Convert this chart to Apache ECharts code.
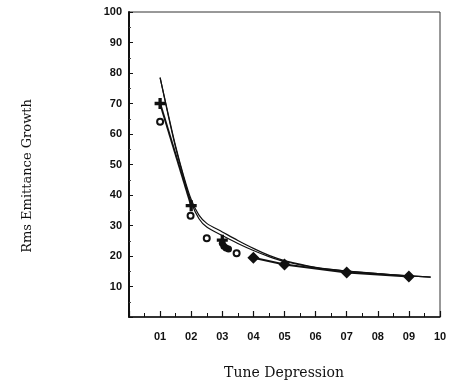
<!DOCTYPE html>
<html>
<head>
<meta charset="utf-8">
<script src="https://cdn.jsdelivr.net/npm/echarts@6/dist/echarts.min.js"></script>
<style>
  html, body { margin: 0; padding: 0; background: #fff; }
  #chart { width: 451px; height: 387px; }
</style>
</head>
<body>
<div id="chart"></div>
<script>
// 两条理论曲线 (tune depression, emittance growth)
var curveUpper = [[0.1, 78.5], [0.125, 67], [0.15, 56], [0.175, 46.5], [0.2, 38.5], [0.225, 33.4],
  [0.25, 30.7], [0.3, 27.9], [0.35, 25.1], [0.4, 22.5], [0.45, 20.2], [0.5, 18.5], [0.6, 16.3],
  [0.7, 15.1], [0.8, 14.2], [0.9, 13.5], [0.97, 13.1]];
var curveLower = [[0.1, 78.5], [0.125, 66.6], [0.15, 55.5], [0.175, 46], [0.2, 37.6], [0.225, 32.2],
  [0.25, 29.5], [0.3, 26.7], [0.35, 24.1], [0.4, 21.8], [0.45, 19.8], [0.5, 18.2], [0.6, 16.2],
  [0.7, 15.05], [0.8, 14.2], [0.9, 13.5], [0.97, 13.1]];
// 测量点
var plusPoints = [[0.1, 70], [0.2, 36.5], [0.3, 25.2]];
var diamondPoints = [[0.4, 19.4], [0.5, 17.2], [0.7, 14.6], [0.9, 13.3]];
var blobPoints = [[0.3, 24.2], [0.305, 23.2], [0.312, 22.6], [0.32, 22.3]];
var circlePoints = [[0.1, 64], [0.198, 33.2], [0.25, 25.8], [0.346, 20.9]];
var xTicks = [0, 1, 0.1];
var yTicks = [0, 100, 10];

var myChart = echarts.init(document.getElementById('chart'));

var labelFont = {
  fontFamily: 'Liberation Sans',
  fontWeight: 'bold',
  fontSize: 11,
  color: '#111'
};

var option = {
  animation: false,
  backgroundColor: '#fff',
  grid: {
    left: 129, top: 12, width: 311, height: 305,
    show: true, borderColor: '#333', borderWidth: 1
  },
  xAxis: {
    type: 'value',
    min: xTicks[0], max: xTicks[1], interval: xTicks[2],
    axisLine: { lineStyle: { color: '#111', width: 1.5 } },
    axisTick: { inside: true, length: 6, lineStyle: { color: '#111', width: 1.2 } },
    minorTick: { show: true, splitNumber: 2, length: 4, lineStyle: { color: '#111' } },
    splitLine: { show: false },
    axisLabel: Object.assign({
      margin: 14,
      formatter: function (v) {
        if (v === 0) return '';
        var n = Math.round(v * 10);
        return n < 10 ? '0' + n : '' + n;
      }
    }, labelFont)
  },
  yAxis: {
    type: 'value',
    min: yTicks[0], max: yTicks[1], interval: yTicks[2],
    axisLine: { show: true, lineStyle: { color: '#111', width: 2 } },
    axisTick: { show: true, inside: true, length: 4, lineStyle: { color: '#111' } },
    minorTick: { show: true, splitNumber: 2, length: 2, lineStyle: { color: '#444' } },
    splitLine: { show: false },
    axisLabel: Object.assign({
      margin: 7,
      formatter: function (v) { return v === 0 ? '' : '' + v; }
    }, labelFont)
  },
  graphic: [
    {
      type: 'text', x: 28, y: 176, rotation: Math.PI / 2,
      style: {
        text: 'Rms Emittance Growth', align: 'center', verticalAlign: 'middle',
        font: '13px "DejaVu Serif"', fill: '#111'
      }
    },
    {
      type: 'text', x: 284, y: 373,
      style: {
        text: 'Tune Depression', align: 'center', verticalAlign: 'middle',
        font: '14px "DejaVu Serif"', fill: '#111'
      }
    }
  ],
  series: [
    {
      type: 'line', data: curveUpper, smooth: 0.3, showSymbol: false,
      lineStyle: { color: '#111', width: 1.2 }
    },
    {
      type: 'line', data: curveLower, smooth: 0.3, showSymbol: false,
      lineStyle: { color: '#111', width: 1.2 }
    },
    {
      type: 'line', data: plusPoints.slice(0, 2), showSymbol: false,
      lineStyle: { color: '#111', width: 2 }
    },
    {
      type: 'line', data: diamondPoints, showSymbol: false,
      lineStyle: { color: '#111', width: 2 }
    },
    {
      type: 'scatter', data: plusPoints,
      symbol: 'path://M3.5,0h3v3.5h3.5v3h-3.5v3.5h-3v-3.5h-3.5v-3h3.5z', symbolSize: 11,
      itemStyle: { color: '#111', opacity: 1 }
    },
    {
      type: 'scatter', data: diamondPoints, symbol: 'diamond', symbolSize: [12, 12],
      itemStyle: { color: '#111', opacity: 1 }
    },
    {
      type: 'scatter', data: blobPoints, symbol: 'circle', symbolSize: 7,
      itemStyle: { color: '#111', opacity: 1 }
    },
    {
      type: 'scatter', data: circlePoints, symbol: 'emptyCircle', symbolSize: 6,
      itemStyle: { color: '#111', borderColor: '#111', borderWidth: 1, opacity: 1 }
    }
  ]
};

myChart.setOption(option, true);
</script>
</body>
</html>
